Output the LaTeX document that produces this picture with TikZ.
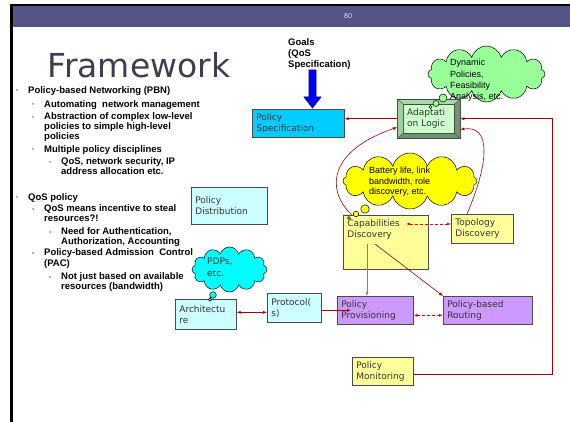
\documentclass[tikz,border=0pt]{standalone}
\usepackage{fontspec}
\setmainfont{Liberation Sans}
\newfontfamily\boxfont{DejaVu Sans}
\usepackage{tikz}
\usetikzlibrary{arrows.meta,calc,shapes.symbols}
\hyphenpenalty=10000
\definecolor{bar}{HTML}{545487}
\definecolor{titlegray}{HTML}{3E3E52}
\definecolor{bulletgray}{HTML}{8A8AA0}
\definecolor{edge}{HTML}{4A4A4A}
\definecolor{boxtext}{HTML}{333333}
\definecolor{specblue}{HTML}{00CCFF}
\definecolor{pale}{HTML}{CCFFFF}
\definecolor{butter}{HTML}{FFFF99}
\definecolor{lilac}{HTML}{CC99FF}
\definecolor{mint}{HTML}{CCFFCC}
\definecolor{bevlight}{HTML}{A8D8A8}
\definecolor{bevdark}{HTML}{6E966E}
\definecolor{leaf}{HTML}{99FF99}
\definecolor{lemon}{HTML}{FFFF00}
\definecolor{aqua}{HTML}{00FFFF}
\definecolor{wine}{HTML}{A00000}
\definecolor{rose}{HTML}{C86464}
\definecolor{scarlet}{HTML}{FF0000}
\definecolor{navy}{HTML}{000080}
\tikzset{
  box/.style={rectangle, draw=edge, line width=0.7pt, anchor=north west,
    inner xsep=4pt, inner ysep=2pt, align=left, text=boxtext,
    font=\boxfont\fontsize{9}{11}\selectfont},
  cbox/.style={box, fill=pale},
  ybox/.style={box, fill=butter},
  lbox/.style={box, fill=lilac},
  link/.style={-{Latex[length=4pt,width=3.2pt]}, draw=wine, line width=0.6pt},
  dlink/.style={{Latex[length=4pt,width=3.2pt]}-{Latex[length=4pt,width=3.2pt]},
    draw=scarlet, line width=0.9pt, dash pattern=on 3pt off 2pt},
  cloudy/.style={cloud, cloud puffs=12, cloud ignores aspect, draw=black,
    line width=0.5pt, inner sep=0pt},
  bubble/.style={draw=black, line width=0.5pt},
  % text blocks hang from a point 8pt above their first baseline
  tl/.style={anchor=north west, inner sep=0pt, align=left,
    execute at begin node={\rule{0pt}{8pt}}},
  say/.style={tl, font=\fontsize{9}{11}\selectfont},
  itm/.style={tl, font=\bfseries\fontsize{9.5}{10}\selectfont}
}
\newcommand{\Item}[4]{% name, x, baseline, text
  \fill[bulletgray] (#2-11,#3-3) circle (1pt);
  \node[itm] (#1) at (#2,#3-8) {#4};
}

\begin{document}
\begin{tikzpicture}[x=1pt,y=-1pt]
  \useasboundingbox (0,0) rectangle (570,422);
  % slide frame and header
  \fill[black] (10,4) rectangle (570,6.5);
  \fill[bar] (12.5,6.5) rectangle (570,27);
  \fill[black] (10,4) rectangle (12.5,422);
  \node[text=white!85!bar, font=\fontsize{7}{8}\selectfont] (pageno) at (348,16.5) {80};
  \node[anchor=base west, text=titlegray, font=\boxfont\fontsize{33}{36}\selectfont] (title) at (44,78) {Framework};

  % bullet list
  \Item{pbn}{28}{93}{Policy-based Networking (PBN)}
  \Item{auto}{44}{107}{Automating\ \ network management}
  \Item{abst}{44}{120}{Abstraction of complex low-level\\policies to simple high-level\\policies}
  \Item{multi}{44}{152}{Multiple policy disciplines}
  \Item{qos}{61}{165}{QoS, network security, IP\\address allocation etc.}
  \Item{qospol}{28}{200}{QoS policy}
  \Item{steal}{44}{212}{QoS means incentive to steal\\resources?!}
  \Item{aaa}{61}{235}{Need for Authentication,\\Authorization, Accounting}
  \Item{pac}{44}{256}{Policy-based Admission\ \ Control\\[1pt](PAC)}
  \Item{avail}{61}{280}{Not just based on available\\resources (bandwidth)}

  % goals feeding the specification
  \node[tl, font=\bfseries\fontsize{9.5}{11}\selectfont] (goals) at (288,38.5) {Goals\\(QoS\\Specification)};
  \draw[fill=blue, draw=navy, line width=0.6pt] (309,70) -- (316,70) -- (316,97) -- (321,97)
    -- (312.5,108) -- (304,97) -- (309,97) -- cycle;

  % boxes
  \node[box, fill=specblue, text width=84pt, minimum height=28pt] (spec) at (252,109) {Policy\\Specification};
  \node[cbox, text width=68pt, minimum height=37pt] (dist) at (191,187) {Policy\\Distribution};
  \node[cbox, text width=53pt, minimum height=30pt] (arch) at (175,299) {Architectu\\re};
  \node[cbox, text width=46pt, minimum height=29pt] (proto) at (267,293) {Protocol(\\s)};
  \node[ybox, text width=77pt, text height=9pt, text depth=41pt] (cap) at (343,215) {Capabilities\\Discovery};
  \node[ybox, text width=54pt, minimum height=29pt] (topo) at (451,214) {Topology\\Discovery};
  \node[lbox, text width=68pt, minimum height=28pt] (prov) at (337,296) {Policy\\Provisioning};
  \node[lbox, text width=81pt, minimum height=28pt] (route) at (443,296) {Policy-based\\Routing};
  \node[ybox, text width=53pt, minimum height=28pt] (mon) at (352,357) {Policy\\Monitoring};

  % bevelled adaptation block
  \node[rectangle, fill=bevdark, anchor=north west, minimum width=63pt, minimum height=39pt, inner sep=0pt] (adaptbase) at (397,99) {};
  \node[box, fill=mint, line width=0.4pt, text width=43pt, minimum height=29pt] (adapt) at (403,104) {Adaptati\\on Logic};
  \fill[bevlight] (adaptbase.north west) -- (adaptbase.north east) -- (adapt.north east) -- (adapt.north west) -- cycle;
  \fill[bevlight!85!bevdark] (adaptbase.north west) -- (adapt.north west) -- (adapt.south west) -- (adaptbase.south west) -- cycle;
  \draw[edge, line width=0.4pt] (adaptbase.north west) -- (adapt.north west)
    (adaptbase.north east) -- (adapt.north east)
    (adaptbase.south west) -- (adapt.south west)
    (adaptbase.south east) -- (adapt.south east);
  \draw[edge, line width=0.7pt] (adaptbase.north west) rectangle (adaptbase.south east);

  % connectors
  \draw[link] (adaptbase.west) -- (spec.east |- adaptbase.west);
  \draw[link] ($(mon.east)+(0,3)$) -| ($(adaptbase.east)+(92,0)$) -- (adaptbase.east);
  \draw[link] ($(cap.north west)+(9,0)$) .. controls +(-27,-25) and +(-68,23) .. ($(adaptbase.south west)+(0,-11)$);
  \draw[link] ($(topo.north west)+(16,0)$) .. controls +(23,-54) and +(30,-4) .. ($(adaptbase.south east)+(0,-9)$);
  \draw[dlink] ($(cap.north west)+(63,9)$) -- ($(topo.north west)+(0,10)$);
  \coordinate (capdown) at ($(cap.north west)+(24,29)$);
  \draw[link, draw=rose] (capdown) -- (capdown |- prov.north);
  \draw[link] ($(cap.north west)+(32,29)$) -- (route.north west);
  \draw[dlink] ($(prov.east)+(0,5)$) -- ($(route.west)+(0,5)$);
  \draw[link, line width=1.3pt] (proto.east |- prov.west) -- ($(prov.west)+(14,0)$);
  \draw[link, {Latex[length=4pt,width=3.2pt]}-{Latex[length=4pt,width=3.2pt]}] ($(arch.east)+(0,-2)$) -- ($(proto.west)+(0,4.5)$);

  % thought clouds
  \node[cloudy, fill=leaf, minimum width=117pt, minimum height=56pt] (dyncloud) at (486.5,74) {};
  \filldraw[leaf, bubble] (443,98) circle (4pt) (436,103.5) circle (3pt) (430.5,107) circle (1.6pt);
  \node[say, font=\fontsize{9}{11.3}\selectfont] (dyntext) at (450,59) {Dynamic\\Policies,\\Feasibility\\Analysis, etc.};

  \node[cloudy, fill=lemon, minimum width=134pt, minimum height=56pt] (batcloud) at (410,181) {};
  \filldraw[lemon, bubble] (365,209) circle (4.2pt) (356,214) circle (2.8pt) (349,218) circle (1.5pt);
  \node[say, font=\fontsize{9}{10.5}\selectfont] (battext) at (369,167) {Battery life, link\\bandwidth, role\\discovery, etc.};

  \node[cloudy, fill=aqua, minimum width=75pt, minimum height=45pt] (pdpcloud) at (229.5,269.5) {};
  \filldraw[aqua, bubble] (213,295) circle (3.3pt) (210,299.5) circle (1.8pt);
  \node[tl, text=boxtext, font=\boxfont\fontsize{9}{12}\selectfont] (pdptext) at (207,258) {PDPs,\\etc.};
\end{tikzpicture}
\end{document}
